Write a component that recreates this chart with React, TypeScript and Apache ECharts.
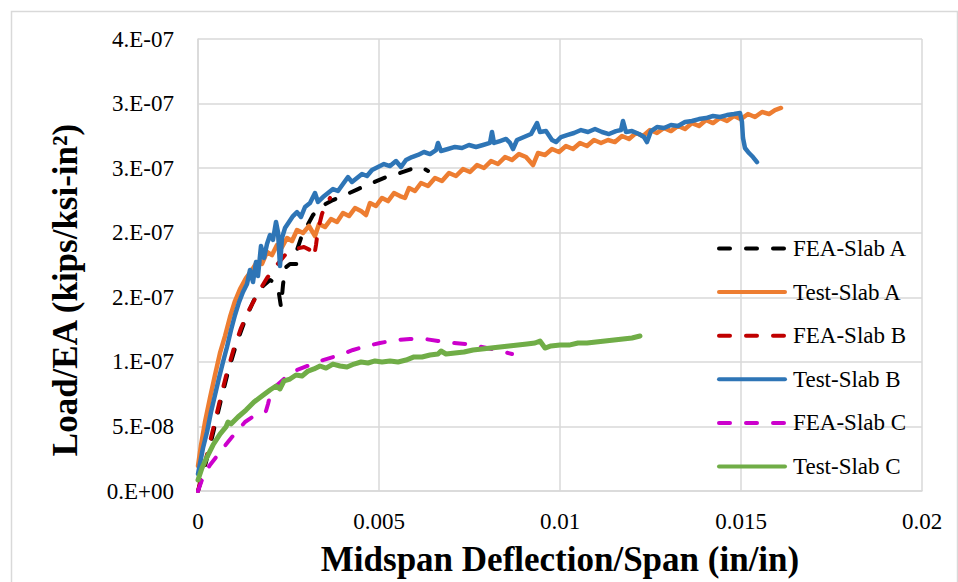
import React, { useEffect, useRef } from "react";
import * as echarts from "echarts";

// Values are stored as [deflection ×1e-3 in/in, load/EA ×1e-7 kips/(ksi·in²)].
const DEFL_UNIT = 1e-3;
const LOAD_UNIT = 1e-7;

const xTickLabels = ["0", "0.005", "0.01", "0.015", "0.02"];
const yTickLabels = ["0.E+00", "5.E-08", "1.E-07", "2.E-07", "2.E-07", "3.E-07", "3.E-07", "4.E-07"];

const seriesNames = ["FEA-Slab A", "Test-Slab A", "FEA-Slab B", "Test-Slab B", "FEA-Slab C", "Test-Slab C"];
const seriesColors = ["#000000", "#ED7D31", "#C00000", "#2E75B6", "#CC00CC", "#70AD47"];
const seriesDashed = [true, false, true, false, true, false];
const seriesWidths = [4, 4.5, 4, 4.5, 4, 5];

const feaSlabA: [number, number][] = [
  [0, 0], [0.138, 0.132], [0.304, 0.317], [0.47, 0.511], [0.635, 0.705], [0.829, 0.921],
  [1.05, 1.13], [1.298, 1.324], [1.547, 1.479], [1.796, 1.587], [1.989, 1.634], [2.155, 1.603],
  [2.238, 1.525], [2.293, 1.425], [2.348, 1.595], [2.403, 1.727], [2.541, 1.758], [2.735, 1.758],
  [2.735, 1.866], [2.845, 1.959], [2.983, 2.036], [3.177, 2.137], [3.425, 2.207], [3.729, 2.253],
  [4.061, 2.292], [4.42, 2.338], [4.807, 2.385], [5.193, 2.431], [5.58, 2.462], [5.967, 2.501],
  [6.16, 2.509], [6.354, 2.478],
];

const testSlabA: [number, number][] = [
  [0, 0.194], [0.083, 0.356], [0.193, 0.534], [0.331, 0.72], [0.47, 0.898], [0.608, 1.069],
  [0.746, 1.2], [0.884, 1.347], [1.022, 1.471], [1.16, 1.564], [1.326, 1.649], [1.492, 1.711],
  [1.63, 1.773], [1.768, 1.758], [1.906, 1.851], [2.044, 1.827], [2.182, 1.905], [2.32, 1.889],
  [2.459, 1.959], [2.597, 1.936], [2.735, 2.021], [2.901, 1.998], [3.066, 2.052], [3.232, 1.974],
  [3.343, 2.067], [3.508, 2.044], [3.674, 2.106], [3.84, 2.083], [4.005, 2.153], [4.171, 2.129],
  [4.337, 2.191], [4.503, 2.168], [4.641, 2.137], [4.751, 2.23], [4.917, 2.207], [5.083, 2.269],
  [5.249, 2.245], [5.414, 2.307], [5.58, 2.284], [5.718, 2.269], [5.829, 2.346], [5.994, 2.323],
  [6.16, 2.385], [6.354, 2.362], [6.547, 2.424], [6.74, 2.4], [6.934, 2.462], [7.127, 2.439],
  [7.32, 2.493], [7.514, 2.47], [7.707, 2.524], [7.9, 2.501], [8.094, 2.555], [8.287, 2.532],
  [8.481, 2.586], [8.674, 2.563], [8.867, 2.609], [9.061, 2.586], [9.254, 2.524], [9.392, 2.617],
  [9.586, 2.602], [9.779, 2.648], [9.972, 2.625], [10.166, 2.671], [10.359, 2.648], [10.552, 2.695],
  [10.746, 2.671], [10.939, 2.718], [11.132, 2.695], [11.326, 2.718], [11.519, 2.702], [11.713, 2.749],
  [11.906, 2.726], [12.099, 2.772], [12.293, 2.749], [12.486, 2.795], [12.679, 2.772], [12.873, 2.811],
  [13.066, 2.787], [13.26, 2.826], [13.453, 2.803], [13.646, 2.849], [13.84, 2.826], [14.033, 2.873],
  [14.226, 2.849], [14.42, 2.888], [14.613, 2.865], [14.807, 2.904], [15.0, 2.88], [15.193, 2.919],
  [15.387, 2.896], [15.58, 2.935], [15.773, 2.919], [15.939, 2.95], [16.105, 2.966],
];

const feaSlabB: [number, number][] = [
  [0, 0], [0.138, 0.155], [0.304, 0.348], [0.47, 0.542], [0.635, 0.736], [0.801, 0.921],
  [0.994, 1.107], [1.188, 1.262], [1.409, 1.401], [1.657, 1.533], [1.906, 1.649], [2.155, 1.742],
  [2.403, 1.827], [2.68, 1.874], [2.928, 1.889], [3.094, 1.866], [3.204, 1.812], [3.26, 1.905],
  [3.315, 2.021], [3.425, 2.145], [3.536, 2.222], [3.646, 2.269],
];

const testSlabB: [number, number][] = [
  [0, 0.132], [0.138, 0.333], [0.249, 0.457], [0.359, 0.612], [0.47, 0.743], [0.58, 0.875],
  [0.691, 0.999], [0.801, 1.115], [0.912, 1.247], [1.022, 1.363], [1.133, 1.463], [1.243, 1.541],
  [1.354, 1.603], [1.436, 1.711], [1.519, 1.618], [1.602, 1.773], [1.657, 1.665], [1.74, 1.897],
  [1.823, 1.804], [1.906, 1.913], [1.989, 1.982], [2.072, 1.944], [2.155, 2.083], [2.21, 2.005],
  [2.265, 1.742], [2.32, 1.959], [2.403, 2.036], [2.514, 2.083], [2.624, 2.129], [2.735, 2.16],
  [2.845, 2.122], [2.956, 2.199], [3.094, 2.23], [3.232, 2.307], [3.315, 2.238], [3.453, 2.276],
  [3.591, 2.307], [3.729, 2.338], [3.867, 2.323], [4.005, 2.377], [4.144, 2.431], [4.254, 2.393],
  [4.392, 2.424], [4.53, 2.455], [4.668, 2.439], [4.807, 2.486], [4.972, 2.509], [5.138, 2.532],
  [5.304, 2.516], [5.47, 2.555], [5.608, 2.509], [5.746, 2.563], [5.911, 2.586], [6.077, 2.602],
  [6.243, 2.625], [6.409, 2.609], [6.575, 2.64], [6.63, 2.695], [6.713, 2.633], [6.906, 2.648],
  [7.099, 2.664], [7.293, 2.656], [7.486, 2.679], [7.679, 2.664], [7.873, 2.679], [8.066, 2.695],
  [8.121, 2.78], [8.177, 2.695], [8.342, 2.71], [8.508, 2.726], [8.619, 2.695], [8.702, 2.648],
  [8.812, 2.718], [9.005, 2.741], [9.199, 2.764], [9.365, 2.849], [9.447, 2.78], [9.613, 2.787],
  [9.779, 2.718], [9.889, 2.702], [10.028, 2.741], [10.193, 2.756], [10.387, 2.772], [10.58, 2.795],
  [10.773, 2.78], [10.967, 2.803], [11.16, 2.78], [11.353, 2.764], [11.547, 2.787], [11.685, 2.795],
  [11.74, 2.865], [11.823, 2.78], [11.989, 2.787], [12.182, 2.764], [12.32, 2.741], [12.403, 2.702],
  [12.514, 2.787], [12.679, 2.818], [12.873, 2.811], [13.066, 2.834], [13.26, 2.826], [13.453, 2.857],
  [13.646, 2.865], [13.84, 2.88], [14.033, 2.888], [14.226, 2.904], [14.42, 2.896], [14.613, 2.911],
  [14.807, 2.919], [14.972, 2.927], [15.027, 2.857], [15.055, 2.733], [15.11, 2.656], [15.221, 2.617],
  [15.331, 2.586], [15.442, 2.547],
];

const feaSlabC: [number, number][] = [
  [0, 0], [0.138, 0.108], [0.331, 0.201], [0.608, 0.302], [0.939, 0.418], [1.298, 0.534],
  [1.63, 0.596], [1.878, 0.619], [1.934, 0.674], [1.989, 0.736], [2.155, 0.813], [2.403, 0.875],
  [2.735, 0.937], [3.094, 0.976], [3.453, 1.014], [3.923, 1.053], [4.282, 1.092], [4.668, 1.123],
  [5.028, 1.146], [5.47, 1.169], [5.856, 1.177], [6.271, 1.177], [6.63, 1.161], [7.044, 1.146],
  [7.431, 1.138], [7.845, 1.115], [8.232, 1.092], [8.674, 1.061],
];

const testSlabC: [number, number][] = [
  [0, 0.085], [0.11, 0.178], [0.249, 0.263], [0.414, 0.356], [0.608, 0.441], [0.773, 0.496],
  [0.829, 0.534], [0.912, 0.519], [1.105, 0.573], [1.326, 0.627], [1.547, 0.689], [1.768, 0.736],
  [1.989, 0.782], [2.155, 0.813], [2.265, 0.79], [2.376, 0.852], [2.541, 0.867], [2.707, 0.898],
  [2.873, 0.89], [3.039, 0.929], [3.204, 0.945], [3.37, 0.968], [3.536, 0.952], [3.729, 0.983],
  [3.923, 0.968], [4.116, 0.96], [4.309, 0.983], [4.503, 0.999], [4.696, 0.991], [4.889, 1.007],
  [5.083, 0.999], [5.304, 1.007], [5.525, 0.999], [5.746, 1.014], [5.967, 1.038], [6.188, 1.038],
  [6.409, 1.053], [6.63, 1.061], [6.713, 1.084], [6.851, 1.061], [7.099, 1.069], [7.348, 1.076],
  [7.597, 1.092], [7.845, 1.1], [8.094, 1.107], [8.342, 1.115], [8.591, 1.123], [8.84, 1.13],
  [9.088, 1.138], [9.309, 1.146], [9.447, 1.161], [9.586, 1.107], [9.751, 1.123], [10.0, 1.13],
  [10.249, 1.13], [10.497, 1.146], [10.746, 1.146], [10.994, 1.154], [11.243, 1.161], [11.492, 1.169],
  [11.74, 1.177], [11.989, 1.185], [12.21, 1.2],
];

const seriesPoints = [feaSlabA, testSlabA, feaSlabB, testSlabB, feaSlabC, testSlabC];

const FONT = "'Liberation Serif', 'Times New Roman', serif";
const GRID_COLOR = "#d9d9d9";
const DASH: number[] = [11, 16];

// Legend layout: items stacked from this top edge, icon drawn to the left of each label.
const LEGEND_LEFT = 712;
const LEGEND_TOP = 232;
const LEGEND_FONT = 23;
const LEGEND_GAP = 20.6;
const LEGEND_ICON_W = 70;

function toValues(points: [number, number][]) {
  return points.map(([d, p]) => [d * DEFL_UNIT, p * LOAD_UNIT]);
}

function lineSeries(i: number) {
  const color = seriesColors[i];
  return {
    name: seriesNames[i],
    type: "line",
    data: toValues(seriesPoints[i]),
    showSymbol: false,
    symbol: "none",
    smooth: false,
    itemStyle: { color },
    lineStyle: {
      color,
      width: seriesWidths[i],
      type: seriesDashed[i] ? DASH : "solid",
      cap: "round",
      join: "round",
    },
    emphasis: { disabled: true },
  };
}

function legendKeys() {
  const x0 = LEGEND_LEFT + 5;
  const firstY = LEGEND_TOP + 5 + LEGEND_FONT / 2;
  return seriesNames.map((_, i) => {
    const y = firstY + i * (LEGEND_FONT + LEGEND_GAP);
    return {
      type: "line",
      silent: true,
      z: 10,
      shape: { x1: x0 + 2, y1: y, x2: x0 + LEGEND_ICON_W - 2, y2: y },
      style: {
        stroke: seriesColors[i],
        lineWidth: 4,
        lineCap: "round",
        lineDash: seriesDashed[i] ? DASH : null,
      },
    };
  });
}

export default function App() {
  const ref = useRef<HTMLDivElement>(null);

  useEffect(() => {
    if (!ref.current) return;
    const chart = echarts.init(ref.current, null, { renderer: "svg" });
    chart.setOption({
      animation: false,
      backgroundColor: "#ffffff",
      grid: { left: 198, top: 39, right: 36, bottom: 91, containLabel: false },
      graphic: [
        {
          type: "rect",
          left: 9,
          top: 9,
          silent: true,
          shape: { width: 946, height: 580 },
          style: { fill: "none", stroke: GRID_COLOR, lineWidth: 1.5 },
        },
        {
          type: "text",
          x: 65,
          y: 290,
          rotation: Math.PI / 2,
          silent: true,
          style: {
            text: "Load/EA (kips/ksi-in²)",
            font: `bold 35px ${FONT}`,
            fill: "#000",
            align: "center",
            verticalAlign: "middle",
          },
        },
        ...legendKeys(),
      ],
      xAxis: {
        type: "value",
        min: 0,
        max: 0.02,
        interval: 0.005,
        axisLine: { show: true, lineStyle: { color: GRID_COLOR, width: 1.5 } },
        axisTick: { show: false },
        splitLine: { show: true, lineStyle: { color: GRID_COLOR, width: 1.5 } },
        axisLabel: {
          formatter: (v: number) => xTickLabels[Math.round(v / 0.005)] ?? "",
          fontSize: 23,
          fontFamily: FONT,
          color: "#000",
          margin: 19,
        },
        name: "Midspan Deflection/Span (in/in)",
        nameLocation: "middle",
        nameGap: 51,
        nameTextStyle: { fontSize: 35, fontWeight: "bold", fontFamily: FONT, color: "#000" },
      },
      yAxis: {
        type: "value",
        min: 0,
        max: 3.5e-7,
        interval: 5e-8,
        axisLine: { show: true, lineStyle: { color: GRID_COLOR, width: 1.5 } },
        axisTick: { show: false },
        splitLine: { show: true, lineStyle: { color: GRID_COLOR, width: 1.5 } },
        axisLabel: {
          formatter: (v: number) => yTickLabels[Math.round(v / 5e-8)] ?? "",
          fontSize: 23,
          fontFamily: FONT,
          color: "#000",
          margin: 24,
        },
      },
      legend: {
        orient: "vertical",
        left: LEGEND_LEFT,
        top: LEGEND_TOP,
        itemWidth: LEGEND_ICON_W,
        itemHeight: 14,
        itemGap: LEGEND_GAP,
        data: seriesNames,
        itemStyle: { opacity: 0 },
        lineStyle: { opacity: 0 },
        textStyle: { fontSize: LEGEND_FONT, fontFamily: FONT, color: "#000" },
        selectedMode: false,
      },
      series: seriesNames.map((_, i) => lineSeries(i)),
    });
    return () => chart.dispose();
  }, []);

  return (
    <div
      ref={ref}
      style={{ position: "absolute", left: 0, top: 0, width: 958, height: 582, background: "#fff" }}
    />
  );
}
